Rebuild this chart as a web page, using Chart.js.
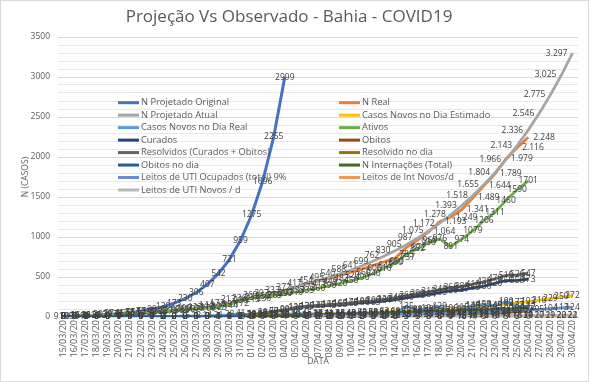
<!DOCTYPE html>
<html><head><meta charset="utf-8">
<script src="https://cdn.jsdelivr.net/npm/chart.js@4.4.1/dist/chart.umd.min.js"></script>
<style>
html,body{margin:0;padding:0;background:#fff;}
#wrap{position:relative;width:589px;height:382px;}
canvas{display:block;}
#frame{position:absolute;left:0;top:0;width:587px;height:380px;border:1px solid #D9D9D9;pointer-events:none;}
</style></head><body>
<div id="wrap"><canvas id="c" width="589" height="382"></canvas><div id="frame"></div></div>
<script>
const dates = ['15/03/20','16/03/20','17/03/20','18/03/20','19/03/20','20/03/20','21/03/20','22/03/20','23/03/20','24/03/20','25/03/20','26/03/20','27/03/20','28/03/20','29/03/20','30/03/20','31/03/20','01/04/20','02/04/20','03/04/20','04/04/20','05/04/20','06/04/20','07/04/20','08/04/20','09/04/20','10/04/20','11/04/20','12/04/20','13/04/20','14/04/20','15/04/20','16/04/20','17/04/20','18/04/20','19/04/20','20/04/20','21/04/20','22/04/20','23/04/20','24/04/20','25/04/20','26/04/20','27/04/20','28/04/20','29/04/20','30/04/20'];

const seriesNames = ['N Projetado Original','N Real','N Projetado Atual','Casos Novos no Dia Estimado','Casos Novos no Dia Real','Ativos','Curados','Obitos','Resolvidos (Curados + Obitos)','Resolvido no dia','Obitos no dia','N Internações (Total)','Leitos de UTI Ocupados (total) 9%','Leitos de Int Novos/d','Leitos de UTI Novos / d'];

const nProjetadoOriginal = [10,13,18,23,31,41,55,73,98,130,173,230,306,407,542,721,959,1275,1696,2255,2999];
const nReal = [9,10,16,21,30,37,46,55,62,73,82,97,109,123,144,172,213,236,269,297,333,372,417,449,482,520,560,600,645,690,737,872,960,1064,1193,1249,1341,1489,1644,1789,1979,2116,2248];
const nProjetadoAtual = [9,10,16,21,30,37,46,55,62,73,82,97,109,123,144,172,213,236,269,297,333,372,417,454,495,540,588,641,699,762,830,905,987,1075,1172,1278,1393,1518,1655,1804,1966,2143,2336,2546,2775,3025,3297];
const casosNovosEstimado = [null,null,null,null,null,null,null,null,null,null,null,null,null,null,null,null,null,null,null,null,null,null,null,37,41,45,48,53,58,63,68,75,82,88,97,106,115,125,137,149,162,177,193,210,229,250,272];
const casosNovosReal = [3,1,6,5,9,7,9,9,7,11,9,15,12,14,21,28,41,23,33,28,36,39,45,32,33,38,40,40,45,45,47,135,88,104,129,56,92,148,155,145,190,137,132];
const ativos = [9,10,16,21,29,36,44,52,58,68,76,89,100,112,127,157,200,237,250,270,290,310,335,360,390,420,450,490,540,610,680,785,852,930,976,881,974,1079,1206,1311,1460,1590,1701];
const curados = [0,0,0,0,0,1,1,1,1,2,2,2,3,3,3,5,8,28,47,67,86,115,129,137,145,153,165,180,183,201,218,240,262,284,305,329,337,363,386,420,456,458,473];
const obitos = [0,0,0,0,0,0,0,0,0,0,0,0,0,0,1,1,2,2,3,3,4,5,6,8,10,12,13,15,17,19,22,25,28,31,35,39,43,47,52,58,63,68,74];
const resolvidos = [0,0,0,0,0,1,1,1,1,2,2,2,3,3,4,6,10,30,50,70,90,120,135,145,155,165,178,195,200,220,240,265,290,315,340,368,380,410,438,478,519,526,547];
const resolvidoNoDia = [0,0,0,0,0,1,0,0,0,1,0,0,1,0,1,2,4,20,20,20,20,30,15,10,10,10,13,17,5,20,20,25,25,25,25,28,12,30,28,40,41,7,21];
const obitosNoDia = [0,0,0,0,0,0,0,0,0,0,0,0,0,0,1,0,1,0,1,0,1,1,1,2,2,2,1,2,2,2,3,3,3,3,4,4,4,4,5,6,5,5,6];
const internacoes = [null,null,null,null,null,null,null,null,null,null,null,null,null,null,null,null,null,10,12,15,18,20,24,28,32,36,40,45,50,54,58,62,66,70,74,78,82,86,90,95,100,106,112];
const leitosUTIOcupados = [null,null,null,null,null,null,null,null,null,null,null,null,null,null,null,null,null,null,null,null,null,null,16,17,19,20,22,24,26,29,31,34,37,40,44,48,52,57,62,67,74,80,87,95,104,113,124];
const leitosIntNovos = [null,null,null,null,null,null,null,null,null,null,null,null,null,null,null,null,null,null,null,null,null,null,3,3,4,4,4,5,5,6,6,7,7,8,8,9,10,11,12,13,14,15,16,17,19,20,22];
const leitosUTINovos = [null,null,null,null,null,null,null,null,null,null,null,null,null,null,null,null,null,null,null,null,null,null,2,2,2,3,3,3,4,4,4,5,5,6,6,7,10,14,15,16,17,18,19,20,21,22,24];

const seriesData = [nProjetadoOriginal,nReal,nProjetadoAtual,casosNovosEstimado,casosNovosReal,ativos,curados,obitos,resolvidos,resolvidoNoDia,obitosNoDia,internacoes,leitosUTIOcupados,leitosIntNovos,leitosUTINovos];
const seriesColors = ['#4472C4','#ED7D31','#A5A5A5','#FFC000','#5B9BD5','#70AD47','#264478','#9E480E','#636363','#997300','#255E91','#43682B','#698ED0','#F1975A','#B7B7B7'];
const labelPos = ['center','right','left','center','center','center','center','center','center','center','center','center','center','center','center'];
const labelDotFormat = [false,true,true,false,false,false,false,false,false,false,false,false,false,false,false];

const yTickLabels = [0,500,1000,1500,2000,2500,3000,3500];

function fmt(v, dot){
  const s = String(v);
  if (!dot || v < 1000) return s;
  return s.slice(0, s.length-3) + '.' + s.slice(s.length-3);
}

const FONT = '"Open Sans", "Liberation Sans", sans-serif';

const dataLabels = {
  id: 'dataLabels',
  afterDatasetsDraw(chart){
    const ctx = chart.ctx;
    ctx.save();
    ctx.font = '8.5px ' + FONT;
    ctx.fillStyle = '#404040';
    ctx.textBaseline = 'middle';
    chart.data.datasets.forEach((ds, di) => {
      const meta = chart.getDatasetMeta(di);
      meta.data.forEach((el, i) => {
        const v = ds.data[i];
        if (v === null || v === undefined) return;
        const txt = fmt(v, labelDotFormat[di]);
        let x = el.x;
        const pos = labelPos[di];
        if (pos === 'right') { ctx.textAlign = 'left'; x += 5; }
        else if (pos === 'left') { ctx.textAlign = 'right'; x -= 5; }
        else ctx.textAlign = 'center';
        ctx.fillText(txt, x, el.y);
      });
    });
    ctx.restore();
  }
};

const insideLegend = {
  id: 'insideLegend',
  afterDraw(chart){
    const ctx = chart.ctx;
    ctx.save();
    ctx.font = '9.3px ' + FONT;
    ctx.textBaseline = 'middle';
    ctx.textAlign = 'left';
    chart.data.datasets.forEach((ds, i) => {
      const col = i % 2, row = Math.floor(i / 2);
      const x0 = col === 0 ? 118 : 339;
      const y = 102.7 + row * 12.47;
      ctx.strokeStyle = ds.borderColor;
      ctx.lineWidth = 3;
      ctx.beginPath(); ctx.moveTo(x0, y); ctx.lineTo(x0 + 21, y); ctx.stroke();
      ctx.fillStyle = '#595959';
      ctx.fillText(ds.label, x0 + 23, y);
    });
    ctx.restore();
  }
};

const datasets = seriesNames.map((name, i) => ({
  label: name,
  data: seriesData[i],
  borderColor: seriesColors[i],
  backgroundColor: seriesColors[i],
  borderWidth: i === 0 ? 3 : 2.75,
  pointRadius: 0,
  pointHoverRadius: 0,
  tension: 0,
  fill: false,
  order: seriesNames.length - i
}));

new Chart(document.getElementById('c'), {
  type: 'line',
  data: { labels: dates, datasets },
  options: {
    responsive: false,
    devicePixelRatio: 1,
    animation: false,
    layout: { padding: { left: 0, right: 11, top: 0, bottom: 0 } },
    plugins: {
      legend: { display: false },
      tooltip: { enabled: false },
      title: {
        display: true,
        text: 'Projeção Vs Observado - Bahia - COVID19',
        color: '#595959',
        font: { family: FONT, size: 17, weight: 'normal' },
        padding: { top: 7, bottom: 9.6 }
      }
    },
    scales: {
      x: {
        offset: true,
        grid: { display: false, drawTicks: false },
        border: { display: true, color: '#D9D9D9' },
        ticks: { autoSkip: false, minRotation: 90, maxRotation: 90, padding: 3, color: '#595959', font: { family: FONT, size: 9 } },
        title: { display: true, text: 'DATA', color: '#595959', font: { family: FONT, size: 8.5 }, padding: { top: 0, bottom: 15 } },
        afterFit(s){ s.height = 65; }
      },
      y: {
        min: 0, max: 3500,
        grid: { drawTicks: false, color: c => (c.tick && c.tick.value % 500 === 0) ? '#D9D9D9' : '#E8E8E8' },
        border: { display: false },
        ticks: { stepSize: 100, maxTicksLimit: 36, autoSkip: false, padding: 8, color: '#595959', font: { family: FONT, size: 8.5 },
          callback: v => yTickLabels.includes(v) ? String(v) : '' },
        title: { display: true, text: 'N (CASOS)', color: '#595959', font: { family: FONT, size: 8.5 }, padding: { top: 20, bottom: 0 } },
        afterFit(s){ s.width = 58; }
      }
    }
  },
  plugins: [dataLabels, insideLegend]
});
</script>
</body></html>
